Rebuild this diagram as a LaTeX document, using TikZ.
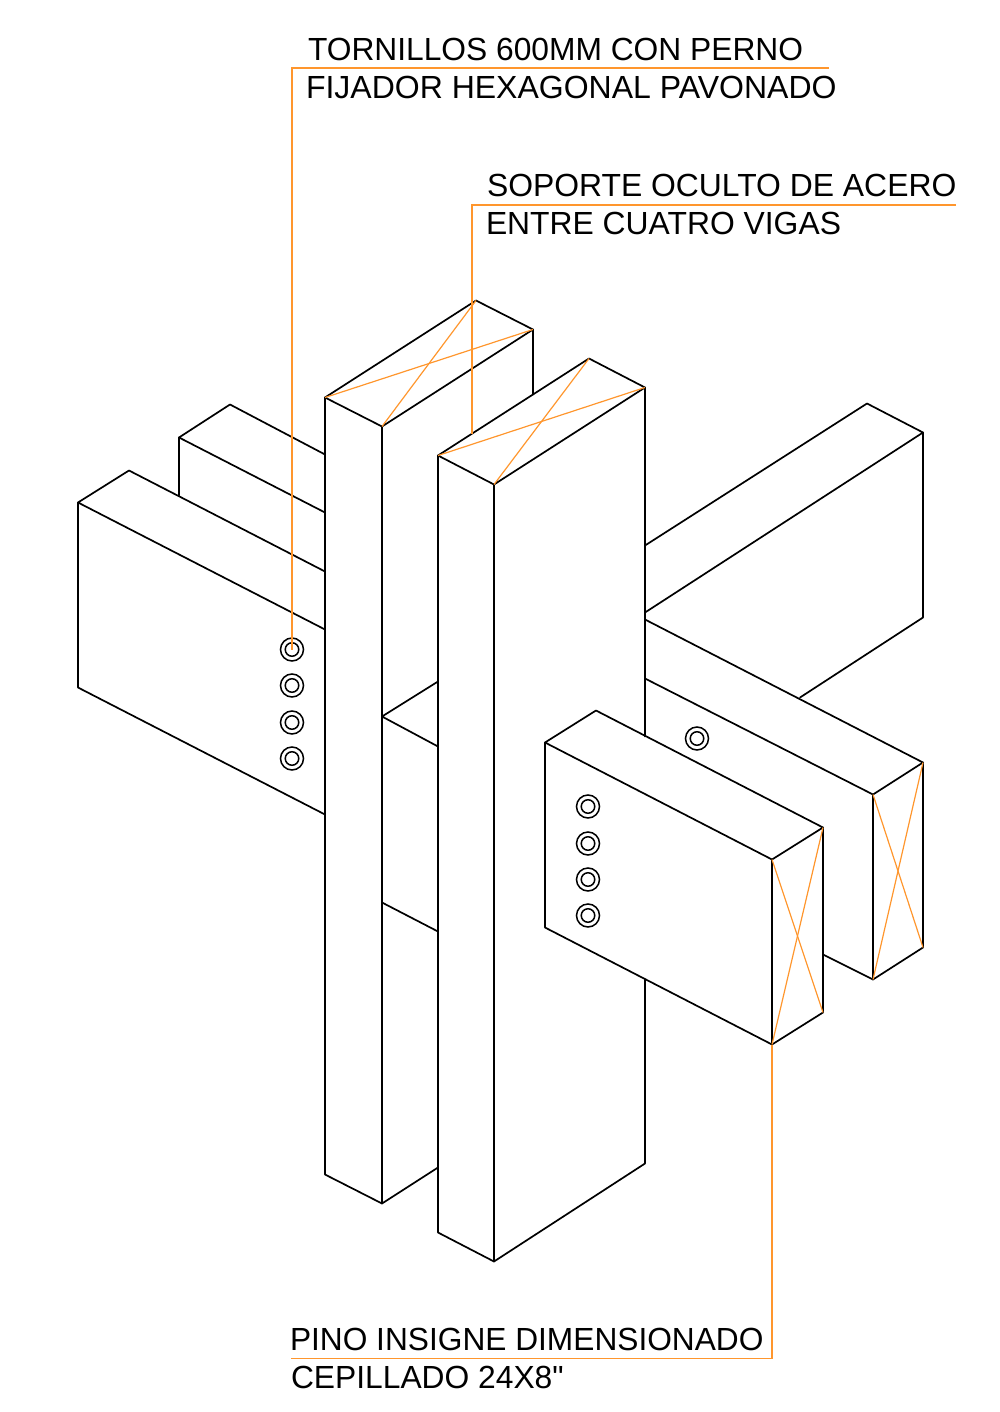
\documentclass[tikz,border=0pt]{standalone}
\usepackage{fontspec}
\setmainfont{Liberation Sans}
\newfontfamily\plainquote{Liberation Sans}
\definecolor{leader}{RGB}{255,150,45}
\tikzset{
  edge/.style={draw=black,line width=1.7pt,line join=round,line cap=round},
  lead/.style={draw=leader,line width=1.2pt},
  label/.style={anchor=base west,inner sep=0pt,outer sep=0pt,font=\fontsize{32}{36}\selectfont,text=black},
  boltout/.style={circle,draw=black,line width=1.5pt,minimum size=23pt,inner sep=0pt},
  boltin/.style={circle,draw=black,line width=1.5pt,minimum size=13.5pt,inner sep=0pt}
}
\begin{document}
\begin{tikzpicture}[x=1pt,y=-1pt]
\useasboundingbox (0,0) rectangle (1000,1412);
% labels
\node[label] (t1) at (308,61) {\scalebox{0.992}[1]{TORNILLOS 600MM CON PERNO}};
\node[label] (t2) at (306,99) {FIJADOR HEXAGONAL PAVONADO};
\node[label] (t3) at (487,197) {\scalebox{0.996}[1]{SOPORTE OCULTO DE ACERO}};
\node[label] (t4) at (486,235) {\scalebox{0.995}[1]{ENTRE CUATRO VIGAS}};
\node[label] (t5) at (290,1350) {\scalebox{0.99}[1]{PINO INSIGNE DIMENSIONADO}};
\node[label] (t6) at (291,1388) {\scalebox{0.993}[1]{\plainquote CEPILLADO 24X8"}};
\begin{scope}[yshift=-0.5pt]
% left beams
\draw[edge] (325,454)--(230,404)--(179,437)--(325,512);
\draw[edge] (179,437)--(179,495);
\draw[edge] (325,571)--(129,470)--(78,502)--(325,629);
\draw[edge] (78,502)--(78,687)--(325,814);
% post 1
\draw[edge] (325,397)--(476,300)--(533,329)--(382,426)--cycle;
\draw[edge] (325,397)--(325,1174)--(382,1203)--(438,1167);
\draw[edge] (382,426)--(382,1203);
\draw[edge] (533,329)--(533,394);
% post 2
\draw[edge] (438,455)--(589,358)--(645,387)--(494,484)--cycle;
\draw[edge] (438,455)--(438,1232)--(494,1261)--(645,1163)--(645,979);
\draw[edge] (494,484)--(494,1261);
\draw[edge] (645,387)--(645,736);
% central beam stubs
\draw[edge] (438,681)--(382,716)--(438,746);
\draw[edge] (382,902)--(438,931);
% upper right beam
\draw[edge] (645,545)--(867,403)--(923,432)--(645,612);
\draw[edge] (923,432)--(923,617)--(800,697);
% lower right beam
\draw[edge] (645,619)--(923,762)--(873,794)--(645,678);
\draw[edge] (923,762)--(923,947)--(873,979)--(823,954);
\draw[edge] (873,794)--(873,979);
% front block
\draw[edge] (772,859)--(545,742)--(596,710)--(823,827)--cycle;
\draw[edge] (545,742)--(545,927)--(772,1044)--(823,1012)--(823,827);
\draw[edge] (772,859)--(772,1044);
% bolts
\foreach \n/\x/\y in {a/292/649,b/292/685,c/292/722,d/292/758,e/697/738,f/588/806,g/588/843,h/588/879,i/588/915}{
  \node[boltout] (bolt\n) at (\x,\y) {};
  \node[boltin] (core\n) at (\x,\y) {};
}
% section crosses
\draw[lead] (325,397)--(533,329);
\draw[lead] (476,300)--(382,426);
\draw[lead] (438,455)--(645,387);
\draw[lead] (589,358)--(494,484);
\draw[lead] (873,794)--(923,947);
\draw[lead] (923,762)--(873,979);
\draw[lead] (772,859)--(823,1012);
\draw[lead] (823,827)--(772,1044);
% leaders
\coordinate (l2end) at (472,433);
\coordinate (l3start) at (772,1044);
\draw[lead] (829,67.5)--(292,67.5)--(bolta.center);
\draw[lead] (956,204.5)--(472,204.5)--(l2end);
\draw[lead] (l3start)--(772,1358)--(291,1358);
\end{scope}
\end{tikzpicture}
\end{document}
